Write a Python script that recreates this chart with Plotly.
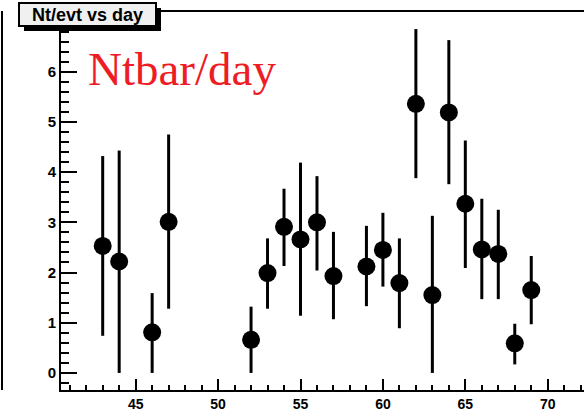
import plotly.graph_objects as go

# Data
days = [43, 44, 46, 47, 52, 53, 54, 55, 56, 57, 59, 60, 61, 62, 63, 64, 65, 66, 67, 68, 69]
nt_per_evt = [2.53, 2.22, 0.81, 3.01, 0.66, 1.99, 2.91, 2.66, 3.00, 1.93, 2.12, 2.45,
              1.79, 5.36, 1.55, 5.19, 3.37, 2.46, 2.37, 0.59, 1.65]
err_up = [1.79, 2.21, 0.78, 1.74, 0.66, 0.69, 0.76, 1.53, 0.92, 0.88, 0.81, 0.74,
          0.89, 1.49, 1.58, 1.44, 1.26, 1.01, 0.88, 0.39, 0.68]
err_down = [1.79, 2.22, 0.81, 1.73, 0.66, 0.71, 0.78, 1.52, 0.96, 0.86, 0.79, 0.73,
            0.90, 1.48, 1.55, 1.43, 1.28, 0.99, 0.90, 0.42, 0.68]
y_ticks = [0, 1, 2, 3, 4, 5, 6]

W, H = 584, 411
L, R, T, B = 61, 584, 12, 390  # plot area in pixels


def px(x):
    return (x - L) / (R - L)


def py(y):
    return (B - y) / (B - T)


fig = go.Figure()
fig.add_trace(go.Scatter(
    x=days, y=nt_per_evt, mode="markers",
    marker=dict(color="black", size=18, symbol="circle"),
    error_y=dict(type="data", symmetric=False, array=err_up, arrayminus=err_down,
                 color="black", thickness=3, width=0),
    showlegend=False, cliponaxis=False,
))

xfont = dict(family="Liberation Sans, Arial, sans-serif", size=14, color="black", weight="bold")
yfont = dict(family="Liberation Sans, Arial, sans-serif", size=15, color="black", weight="bold")

fig.update_layout(
    width=W, height=H,
    margin=dict(l=L, r=W - R, t=T, b=H - B, autoexpand=False),
    paper_bgcolor="white", plot_bgcolor="white",
    xaxis=dict(
        range=[40.47, 72.2], showgrid=False, zeroline=False, automargin=False,
        showline=True, linecolor="black", linewidth=2, mirror=True,
        ticks="inside", ticklen=11, tickwidth=2, tickcolor="black",
        tick0=0, dtick=5, tickfont=xfont,
        minor=dict(ticks="inside", ticklen=5, tickwidth=2, tickcolor="black", dtick=1, tick0=0, showgrid=False),
    ),
    yaxis=dict(
        range=[-0.34, 7.19], showgrid=False, zeroline=False, automargin=False,
        showline=True, linecolor="black", linewidth=2, mirror=False,
        ticks="inside", ticklen=16, tickwidth=2, tickcolor="black",
        tickmode="array", tickvals=y_ticks, tickfont=yfont,
        minor=dict(ticks="inside", ticklen=8, tickwidth=2, tickcolor="black", dtick=0.2, tick0=0, showgrid=False),
    ),
)

shapes = [
    # left border line of neighbouring pad
    dict(type="line", xref="paper", yref="paper", x0=px(2), x1=px(2), y0=py(11), y1=py(390),
         line=dict(color="black", width=2)),
    # title box shadow
    dict(type="rect", xref="paper", yref="paper", x0=px(24), x1=px(161), y0=py(8), y1=py(31),
         fillcolor="black", line=dict(width=0)),
    # title box
    dict(type="rect", xref="paper", yref="paper", x0=px(19), x1=px(156), y0=py(3), y1=py(26),
         fillcolor="#f0f0f0", line=dict(color="black", width=2)),
]
fig.update_layout(shapes=shapes)

fig.add_annotation(
    x=px(87.5), y=py(15), xref="paper", yref="paper", showarrow=False,
    text="Nt/evt vs day", xanchor="center", yanchor="middle",
    font=dict(family="Liberation Sans, Arial, sans-serif", size=18, color="black", weight="bold"),
)
fig.add_annotation(
    x=px(86), y=py(69), xref="paper", yref="paper", showarrow=False,
    text="Ntbar/day", xanchor="left", yanchor="middle",
    font=dict(family="Liberation Serif, Times New Roman, serif", size=47, color="#ee1c24"),
)

fig.write_html("out.html", config={"displayModeBar": False},
               post_script="document.body.style.margin='0';")
